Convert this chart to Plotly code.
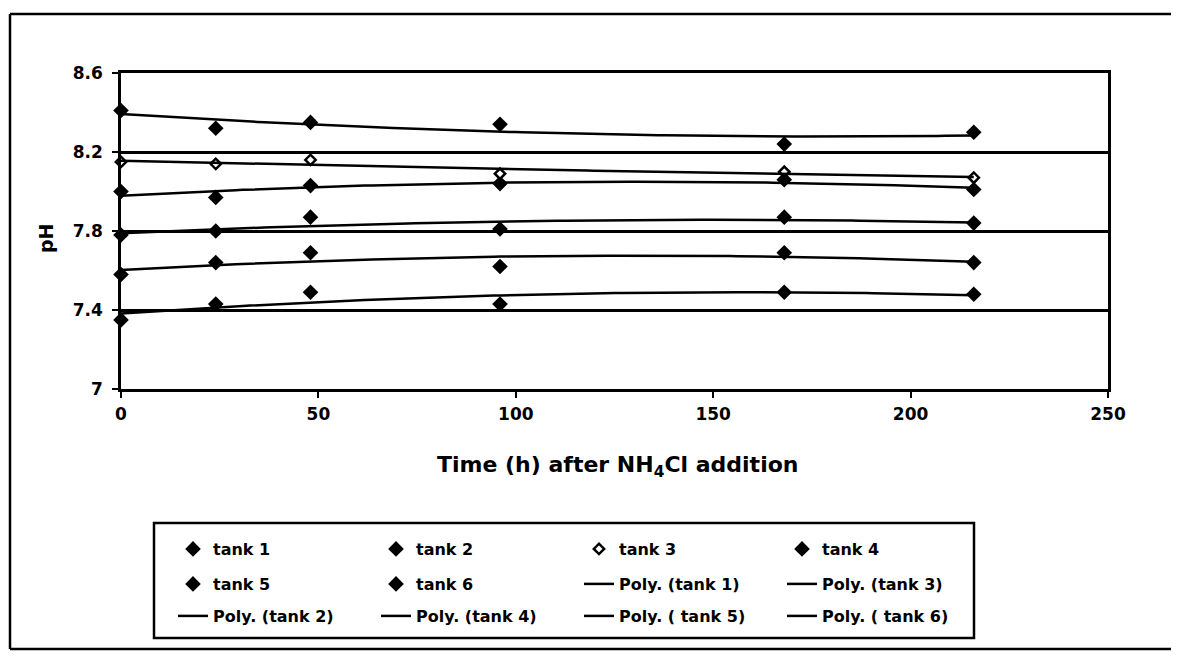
import numpy as np
import plotly.graph_objects as go

# ---- data ----
time_h = [0, 24, 48, 96, 168, 216]
tank1 = [8.41, 8.32, 8.35, 8.34, 8.24, 8.30]
tank2 = [8.00, 7.97, 8.03, 8.04, 8.06, 8.01]
tank3 = [8.15, 8.14, 8.16, 8.09, 8.10, 8.07]
tank4 = [7.78, 7.80, 7.87, 7.81, 7.87, 7.84]
tank5 = [7.58, 7.64, 7.69, 7.62, 7.69, 7.64]
tank6 = [7.35, 7.43, 7.49, 7.43, 7.49, 7.48]
x_ticks = [0, 50, 100, 150, 200, 250]
y_ticks = [7.0, 7.4, 7.8, 8.2, 8.6]
y_tick_labels = ["7", "7.4", "7.8", "8.2", "8.6"]

series = {
    "tank 1": tank1, "tank 2": tank2, "tank 3": tank3,
    "tank 4": tank4, "tank 5": tank5, "tank 6": tank6,
}

# ---- geometry (screen pixels); the page body adds an offset ----
OX, OY = 8, 7
W, H = 1179 - OX, 657 - OY
L, R, T, B = 121, 1108, 72, 388          # plot area on screen

def px(xs):
    return (xs - L) / (R - L)

def py(ys):
    return (B - ys) / (B - T)

FONT = "DejaVu Sans, Liberation Sans, Arial, sans-serif"

fig = go.Figure()

legend_of = {
    "tank 1": "legend", "tank 2": "legend", "tank 3": "legend", "tank 4": "legend",
    "tank 5": "legend2", "tank 6": "legend2",
}

for name, vals in series.items():
    if name == "tank 3":
        marker = dict(symbol="diamond", size=8, color="white",
                      line=dict(color="black", width=2.5))
    else:
        marker = dict(symbol="diamond", size=12, color="black",
                      line=dict(color="black", width=0))
    fig.add_trace(go.Scatter(
        x=time_h, y=vals, mode="markers", name=name, marker=marker,
        cliponaxis=False, legend=legend_of[name],
    ))

# polynomial (order 2) trendlines, Excel style
xfit = np.linspace(min(time_h), max(time_h), 120)
poly_order = [("tank 1", "Poly. (tank 1)", "legend2"),
              ("tank 3", "Poly. (tank 3)", "legend2"),
              ("tank 2", "Poly. (tank 2)", "legend3"),
              ("tank 4", "Poly. (tank 4)", "legend3"),
              ("tank 5", "Poly. ( tank 5)", "legend3"),
              ("tank 6", "Poly. ( tank 6)", "legend3")]
for key, label, lg in poly_order:
    coef = np.polyfit(time_h, series[key], 2)
    fig.add_trace(go.Scatter(
        x=xfit, y=np.polyval(coef, xfit), mode="lines", name=label,
        line=dict(color="black", width=2.5), legend=lg, hoverinfo="skip",
    ))

leg_common = dict(orientation="h", xanchor="left", yanchor="middle",
                  bgcolor="rgba(0,0,0,0)", borderwidth=0,
                  font=dict(family=FONT, size=16, color="black", weight="bold"),
                  entrywidth=158, entrywidthmode="pixels", traceorder="normal",
                  itemsizing="trace")

tickfont = dict(family=FONT, size=17, color="black", weight="bold")

fig.update_layout(
    width=W, height=H,
    margin=dict(l=L - OX, r=W - (R - OX), t=T - OY, b=H - (B - OY), pad=0),
    paper_bgcolor="white", plot_bgcolor="white",
    font=dict(family=FONT, color="black"),
    showlegend=True,
    legend=dict(leg_common, x=px(173), y=py(548)),
    legend2=dict(leg_common, x=px(173), y=py(583)),
    legend3=dict(leg_common, x=px(173), y=py(615)),
    xaxis=dict(range=[0, 250], tickvals=x_ticks, ticks="outside", ticklen=6,
               tickwidth=2, tickcolor="black", showline=True, linecolor="black",
               linewidth=2.5, mirror=True, showgrid=False, zeroline=False,
               ticklabelstandoff=2, tickfont=tickfont),
    yaxis=dict(range=[7, 8.6], tickvals=y_ticks, ticktext=y_tick_labels,
               ticks="outside", ticklen=6, tickwidth=2, tickcolor="black",
               showline=True, linecolor="black", linewidth=2.5, mirror=True,
               showgrid=True, gridcolor="black", gridwidth=2.5, zeroline=False,
               ticklabelstandoff=6, tickfont=tickfont),
)

fig.add_annotation(
    x=px(617), y=py(465), xref="paper", yref="paper", showarrow=False,
    text="Time (h) after NH<sub>4</sub>Cl addition",
    font=dict(family=FONT, size=22, color="black", weight="bold"),
    xanchor="center", yanchor="middle")
fig.add_annotation(
    x=px(46), y=py(237), xref="paper", yref="paper", showarrow=False,
    text="pH", textangle=-90,
    font=dict(family=FONT, size=19, color="black", weight="bold"),
    xanchor="center", yanchor="middle")

# legend box
fig.add_shape(type="rect", xref="paper", yref="paper",
              x0=px(154), x1=px(974), y0=py(637), y1=py(522),
              line=dict(color="black", width=2.5))
# outer chart border
fig.add_shape(type="line", xref="paper", yref="paper",
              x0=px(10), x1=px(1180), y0=py(13), y1=py(13),
              line=dict(color="black", width=2.5))
fig.add_shape(type="line", xref="paper", yref="paper",
              x0=px(10), x1=px(10), y0=py(13), y1=py(648),
              line=dict(color="black", width=2.5))
fig.add_shape(type="line", xref="paper", yref="paper",
              x0=px(10), x1=px(1180), y0=py(648), y1=py(648),
              line=dict(color="black", width=2.5))

fig.write_html("out.html")
